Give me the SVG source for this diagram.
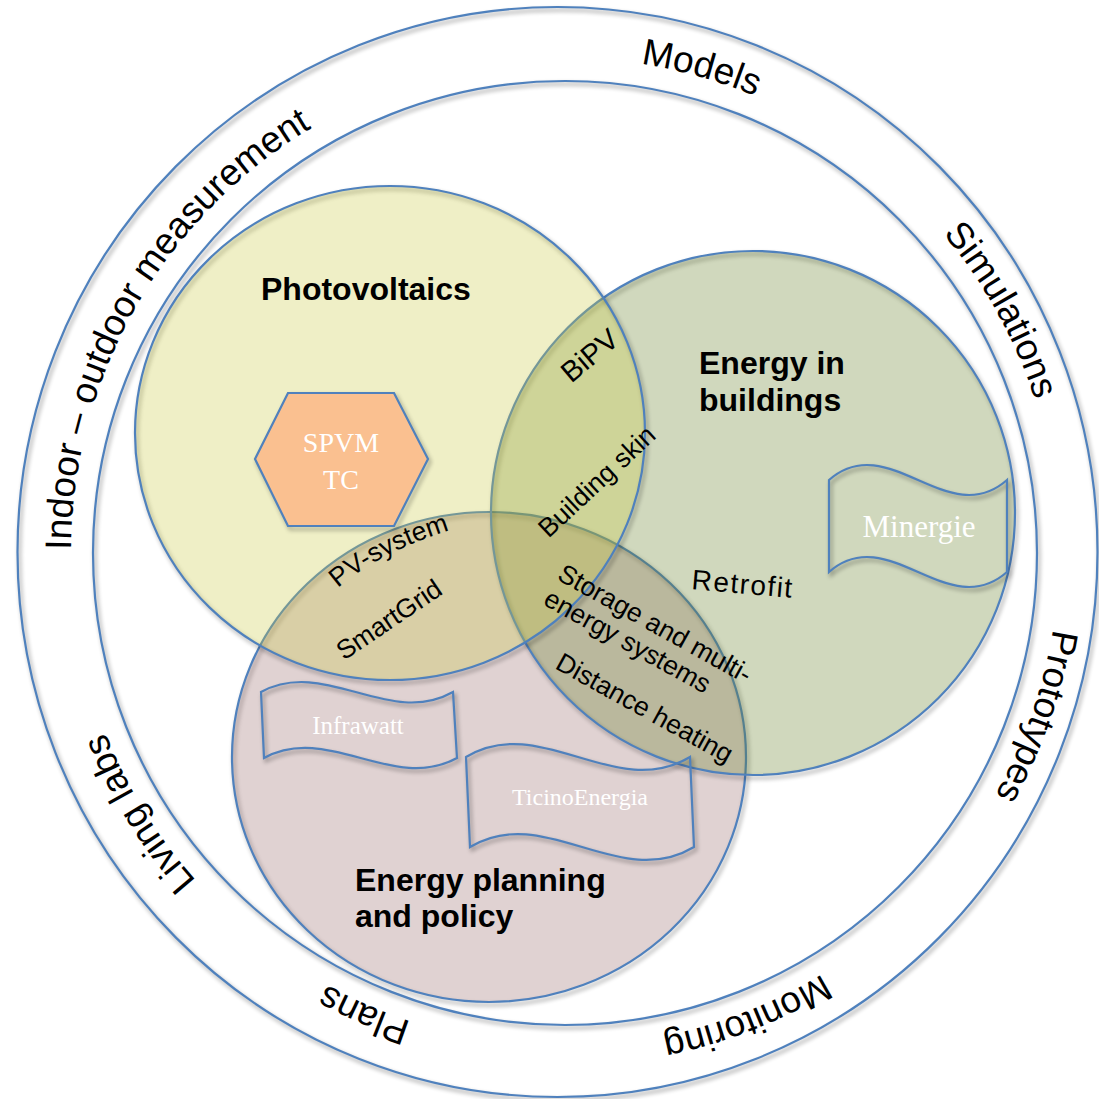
<svg xmlns="http://www.w3.org/2000/svg" width="1099" height="1099" viewBox="0 0 1099 1099">
<style>
.ring{fill:none;stroke:#4F81BD;stroke-width:2.2}
.edge{stroke:#4F81BD;stroke-width:2.2}
.shd{fill:none;stroke:#000;stroke-width:3;filter:url(#sh)}
.ringtxt{font-family:"Liberation Sans",Arial,sans-serif;font-size:37px;fill:#000}
.title{font-family:"Liberation Sans",Arial,sans-serif;font-size:32px;font-weight:bold;fill:#000}
.lbl{font-family:"Liberation Sans",Arial,sans-serif;font-size:26.5px;fill:#000}
.serif{font-family:"Liberation Serif","Times New Roman",serif;fill:#fff;text-anchor:middle}
.banner{fill:none;stroke:#4F81BD;stroke-width:2.2}
</style>
<defs>
<filter id="sh" x="-10%" y="-10%" width="120%" height="120%">
<feGaussianBlur in="SourceAlpha" stdDeviation="2"/>
<feOffset dx="1.5" dy="2.5"/>
<feComponentTransfer><feFuncA type="linear" slope="0.3"/></feComponentTransfer>
</filter>
<path id="ringpath" d="M71,552 A494,494 0 1 1 1059,552 A494,494 0 1 1 71,552"/>
</defs>

<g id="ring-outer">
<ellipse class="shd" cx="557.5" cy="552" rx="540" ry="545"/>
<ellipse class="ring" cx="557.5" cy="552" rx="540" ry="545"/>
</g>
<g id="ring-inner">
<circle class="shd" cx="565" cy="553" r="472"/>
<circle class="ring" cx="565" cy="553" r="472"/>
</g>

<g id="ring-labels" class="ringtxt">
<text><textPath href="#ringpath" startOffset="2">Indoor – outdoor measurement</textPath></text>
<text><textPath href="#ringpath" startOffset="852">Models</textPath></text>
<text><textPath href="#ringpath" startOffset="1206">Simulations</textPath></text>
<text><textPath href="#ringpath" startOffset="1629">Prototypes</textPath></text>
<text><textPath href="#ringpath" startOffset="2057">Monitoring</textPath></text>
<text><textPath href="#ringpath" startOffset="2484">Plans</textPath></text>
<text><textPath href="#ringpath" startOffset="2744">Living labs</textPath></text>
</g>

<g id="node-energy-planning">
<ellipse class="shd" cx="489" cy="757" rx="257" ry="245"/>
<ellipse class="edge" cx="489" cy="757" rx="257" ry="245" fill="rgb(152,105,105)" fill-opacity="0.3"/>
</g>
<g id="node-energy-buildings">
<circle class="shd" cx="753" cy="513" r="262"/>
<circle class="edge" cx="753" cy="513" r="262" fill="rgb(98,125,38)" fill-opacity="0.3"/>
</g>
<g id="node-photovoltaics">
<ellipse class="shd" cx="390" cy="433" rx="255" ry="247"/>
<ellipse class="edge" cx="390" cy="433" rx="255" ry="247" fill="rgb(202,202,65)" fill-opacity="0.3"/>
</g>

<g id="node-spvm">
<polygon class="shd" points="288,393 394,393 428,459 394,526 288,526 255,459"/>
<polygon class="edge" points="288,393 394,393 428,459 394,526 288,526 255,459" fill="#FAC090"/>
<text class="serif" x="341" y="452" font-size="28">SPVM</text>
<text class="serif" x="341" y="489" font-size="28">TC</text>
</g>

<g id="node-minergie">
<path class="shd" d="M829,480 C888.3,428 947.7,532 1007,480 L1007,572 C947.7,624 888.3,520 829,572 Z"/>
<path class="banner" d="M829,480 C888.3,428 947.7,532 1007,480 L1007,572 C947.7,624 888.3,520 829,572 Z"/>
<text class="serif" x="919" y="537" font-size="31">Minergie</text>
</g>
<g id="node-infrawatt">
<path class="shd" d="M261,692 C325,657 389,728 453,692 L457,758 C393,793 328,723 264,758 Z"/>
<path class="banner" d="M261,692 C325,657 389,728 453,692 L457,758 C393,793 328,723 264,758 Z"/>
<text class="serif" x="358" y="734" font-size="25">Infrawatt</text>
</g>
<g id="node-ticinoenergia">
<path class="shd" d="M466,757 C540.7,712 615.3,802 690,757 L694,847 C619.3,892 544.7,802 470,847 Z"/>
<path class="banner" d="M466,757 C540.7,712 615.3,802 690,757 L694,847 C619.3,892 544.7,802 470,847 Z"/>
<text class="serif" x="580" y="805" font-size="24">TicinoEnergia</text>
</g>

<g id="titles" class="title">
<text x="261" y="300">Photovoltaics</text>
<text x="699" y="374">Energy in</text>
<text x="699" y="411">buildings</text>
<text x="355" y="891">Energy planning</text>
<text x="355" y="927">and policy</text>
</g>

<g id="overlap-labels" class="lbl">
<text transform="translate(596,363) rotate(-40)" text-anchor="middle" font-size="29">BiPV</text>
<text transform="translate(603,488) rotate(-43)" text-anchor="middle">Building skin</text>
<path id="pvpath" d="M338,588 Q384,548 470,524" fill="none"/>
<text><textPath href="#pvpath">PV-system</textPath></text>
<text transform="translate(394,627) rotate(-34)" text-anchor="middle">SmartGrid</text>
<text transform="translate(556,579) rotate(29)">Storage and multi-</text>
<text transform="translate(542,604) rotate(29)">energy systems</text>
<text transform="translate(554,668) rotate(29)">Distance heating</text>
<text transform="translate(691,589) rotate(5)" font-size="28" letter-spacing="1.5">Retrofit</text>
</g>
</svg>
